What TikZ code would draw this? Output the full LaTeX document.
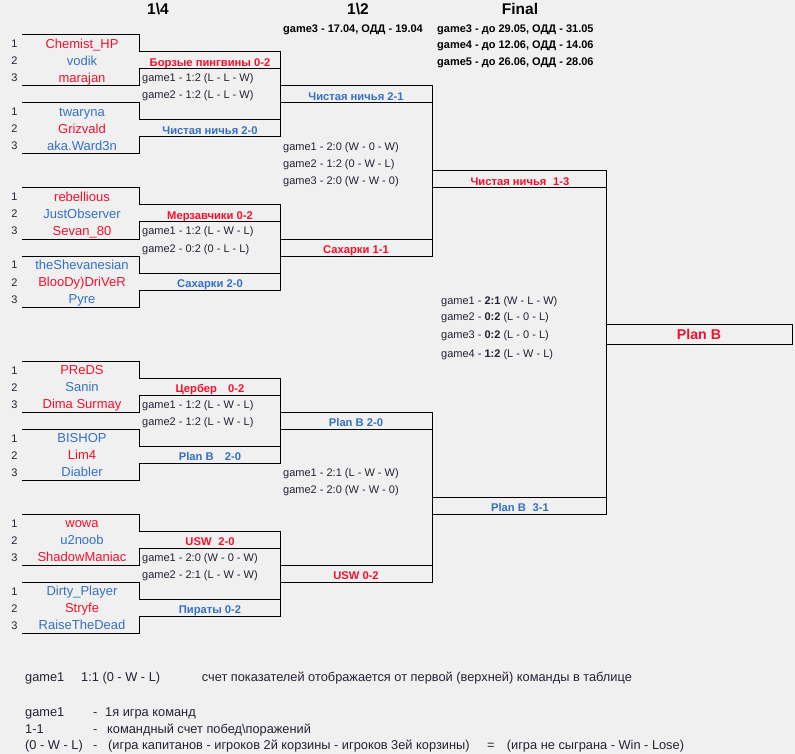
\documentclass[tikz,border=0pt]{standalone}
\usepackage{fontspec}
\setmainfont{Liberation Sans}
\usetikzlibrary{positioning}

\definecolor{bgcol}{RGB}{240,240,240}
\definecolor{redteam}{RGB}{245,16,44}
\definecolor{blueteam}{RGB}{52,112,196}
\definecolor{gametxt}{RGB}{40,32,52}

\tikzset{
  line/.style={line width=1pt, black},
  seed/.style={anchor=base, inner sep=0pt, font=\fontsize{11}{13}\selectfont, text=gametxt},
  player/.style={anchor=base, inner sep=0pt, font=\fontsize{13}{15}\selectfont},
  teamlbl/.style={anchor=base, inner sep=0pt, font=\fontsize{11.2}{13}\selectfont\bfseries},
  game/.style={anchor=base west, inner sep=0pt, font=\fontsize{11}{13}\selectfont, text=gametxt},
  head/.style={anchor=base, inner sep=0pt, font=\fontsize{15.5}{18}\selectfont\bfseries},
  date/.style={anchor=base west, inner sep=0pt, font=\fontsize{11}{13}\selectfont\bfseries},
  legend/.style={anchor=base west, inner sep=0pt, font=\fontsize{12.8}{15}\selectfont, text=gametxt}
}

\begin{document}
\begin{tikzpicture}[x=1pt, y=-1pt]
    % background and page size
    \fill[bgcol] (0,0) rectangle (795,754);

    % headers
    \node[head] (h-quarter) at (158,14.5) {1\textbackslash 4};
    \node[head] (h-semi) at (358,14.5) {1\textbackslash 2};
    \node[head] (h-final) at (520,14.5) {Final};
    \node[date] (d-semi) at (283,32.3) {game3 - 17.04, ОДД - 19.04};
    \node[date] (d-final3) at (437,32.3) {game3 - до 29.05, ОДД - 31.05};
    \node[date] (d-final4) at (437,49) {game4 - до 12.06, ОДД - 14.06};
    \node[date] (d-final5) at (437,65.3) {game5 - до 26.06, ОДД - 28.06};

    % 1/4: bracket lines and seed numbers
    \foreach \m/\b in {1/35,2/188,3/361,4/514}{
        \draw[line] (22,\b) -- (139,\b) -- (139,\b+17) -- (280,\b+17) -- (280,\b+102)
            -- (139,\b+102) -- (139,\b+119) -- (22,\b+119);
        \draw[line] (22,\b+51) -- (139,\b+51) -- (139,\b+34) -- (280,\b+34);
        \draw[line] (22,\b+68) -- (139,\b+68) -- (139,\b+85) -- (280,\b+85);
        \foreach \k/\s in {0/1,1/2,2/3,4/1,5/2,6/3}
            \node[seed] (s\m-\k) at (14.5,\b+17*\k+13) {\s};
    }

    % 1/4: players
    \foreach \m/\b/\pa/\pb/\pc/\pd/\pe/\pf in {
        1/35/Chemist\_HP/vodik/marajan/twaryna/Grizvald/aka.Ward3n,
        2/188/rebellious/JustObserver/Sevan\_80/theShevanesian/BlooDy)DriVeR/Pyre,
        3/361/PReDS/Sanin/Dima Surmay/BISHOP/Lim4/Diabler,
        4/514/wowa/u2noob/ShadowManiac/Dirty\_Player/Stryfe/RaiseTheDead}{
        \node[player,redteam] (p\m-0) at (82,\b+13.5) {\pa};
        \node[player,blueteam] (p\m-1) at (82,\b+30.5) {\pb};
        \node[player,redteam] (p\m-2) at (82,\b+47.5) {\pc};
        \node[player,blueteam] (p\m-4) at (82,\b+81.5) {\pd};
        \node[player,redteam] (p\m-5) at (82,\b+98.5) {\pe};
        \node[player,blueteam] (p\m-6) at (82,\b+115.5) {\pf};
    }

    % 1/4: team results
    \node[teamlbl,redteam] (t1a) at (210,66.5) {Борзые пингвины 0-2};
    \node[teamlbl,blueteam] (t1b) at (210,134.5) {Чистая ничья 2-0};
    \node[teamlbl,redteam] (t2a) at (210,219.5) {Мерзавчики 0-2};
    \node[teamlbl,blueteam] (t2b) at (210,287.5) {Сахарки 2-0};
    \node[teamlbl,redteam] (t3a) at (210,392.5) {Цербер\hspace{1em}0-2};
    \node[teamlbl,blueteam] (t3b) at (210,460.5) {Plan B\hspace{1em}2-0};
    \node[teamlbl,redteam] (t4a) at (210,545.5) {USW\hspace{0.6em}2-0};
    \node[teamlbl,blueteam] (t4b) at (210,613.5) {Пираты 0-2};

    % 1/4: games
    \node[game] (g1-1) at (142,82) {game1 - 1:2 (L - L - W)};
    \node[game] (g1-2) at (142,99) {game2 - 1:2 (L - L - W)};
    \node[game] (g2-1) at (142,235) {game1 - 1:2 (L - W - L)};
    \node[game] (g2-2) at (142,252) {game2 - 0:2 (0 - L - L)};
    \node[game] (g3-1) at (142,408) {game1 - 1:2 (L - W - L)};
    \node[game] (g3-2) at (142,425) {game2 - 1:2 (L - W - L)};
    \node[game] (g4-1) at (142,561) {game1 - 2:0 (W - 0 - W)};
    \node[game] (g4-2) at (142,578) {game2 - 2:1 (L - W - W)};

    % 1/2: bracket lines
    \draw[line] (280,86) -- (432,86) -- (432,256) -- (280,256);
    \draw[line] (280,103) -- (432,103);
    \draw[line] (280,239) -- (432,239);
    \draw[line] (280,412) -- (432,412) -- (432,582) -- (280,582);
    \draw[line] (280,429) -- (432,429);
    \draw[line] (280,565) -- (432,565);

    % 1/2: team results and games
    \node[teamlbl,blueteam] (s1a) at (356,100.5) {Чистая ничья 2-1};
    \node[teamlbl,redteam] (s1b) at (356,253.5) {Сахарки 1-1};
    \node[teamlbl,blueteam] (s2a) at (356,426.5) {Plan B 2-0};
    \node[teamlbl,redteam] (s2b) at (356,579.5) {USW 0-2};
    \node[game] (gs1-1) at (283,150.5) {game1 - 2:0 (W - 0 - W)};
    \node[game] (gs1-2) at (283,167.5) {game2 - 1:2 (0 - W - L)};
    \node[game] (gs1-3) at (283,184.5) {game3 - 2:0 (W - W - 0)};
    \node[game] (gs2-1) at (283,476) {game1 - 2:1 (L - W - W)};
    \node[game] (gs2-2) at (283,493) {game2 - 2:0 (W - W - 0)};

    % Final
    \draw[line] (432,171) -- (606,171) -- (606,514) -- (432,514);
    \draw[line] (432,188) -- (606,188);
    \draw[line] (432,497) -- (606,497);
    \draw[line] (606,324) rectangle (792,344);
    \node[teamlbl,redteam] (f-a) at (520,185.5) {Чистая ничья\hspace{0.6em}1-3};
    \node[teamlbl,blueteam] (f-b) at (520,511.5) {Plan B\hspace{0.6em}3-1};
    \node[game] (gf-1) at (441,304) {game1 - \textbf{2:1} (W - L - W)};
    \node[game] (gf-2) at (441,320.7) {game2 - \textbf{0:2} (L - 0 - L)};
    \node[game] (gf-3) at (441,338.7) {game3 - \textbf{0:2} (L - 0 - L)};
    \node[game] (gf-4) at (441,357.7) {game4 - \textbf{1:2} (L - W - L)};
    \node[anchor=base, inner sep=0pt, font=\fontsize{14.2}{16}\selectfont\bfseries, redteam]
        (winner) at (699,339) {Plan B};

    % legend
    \node[legend] (l1a) at (25,681) {game1};
    \node[legend] (l1b) at (81,681) {1:1 (0 - W - L)};
    \node[legend] (l1c) at (201.7,681) {счет показателей отображается от первой (верхней) команды в таблице};
    \node[legend] (l2a) at (25,716) {game1};
    \node[legend] (l2b) at (93,716) {-};
    \node[legend] (l2c) at (105,716) {1я игра команд};
    \node[legend] (l3a) at (25,733) {1-1};
    \node[legend] (l3b) at (93,733) {-};
    \node[legend] (l3c) at (107,733) {командный счет побед\textbackslash поражений};
    \node[legend] (l4a) at (25,749.5) {(0 - W - L)};
    \node[legend] (l4b) at (93,749.5) {-};
    \node[legend] (l4c) at (108,749.5) {(игра капитанов - игроков 2й корзины - игроков 3ей корзины)};
    \node[legend] (l4d) at (487,749.5) {=};
    \node[legend] (l4e) at (506.7,749.5) {(игра не сыграна - Win - Lose)};
\end{tikzpicture}
\end{document}
